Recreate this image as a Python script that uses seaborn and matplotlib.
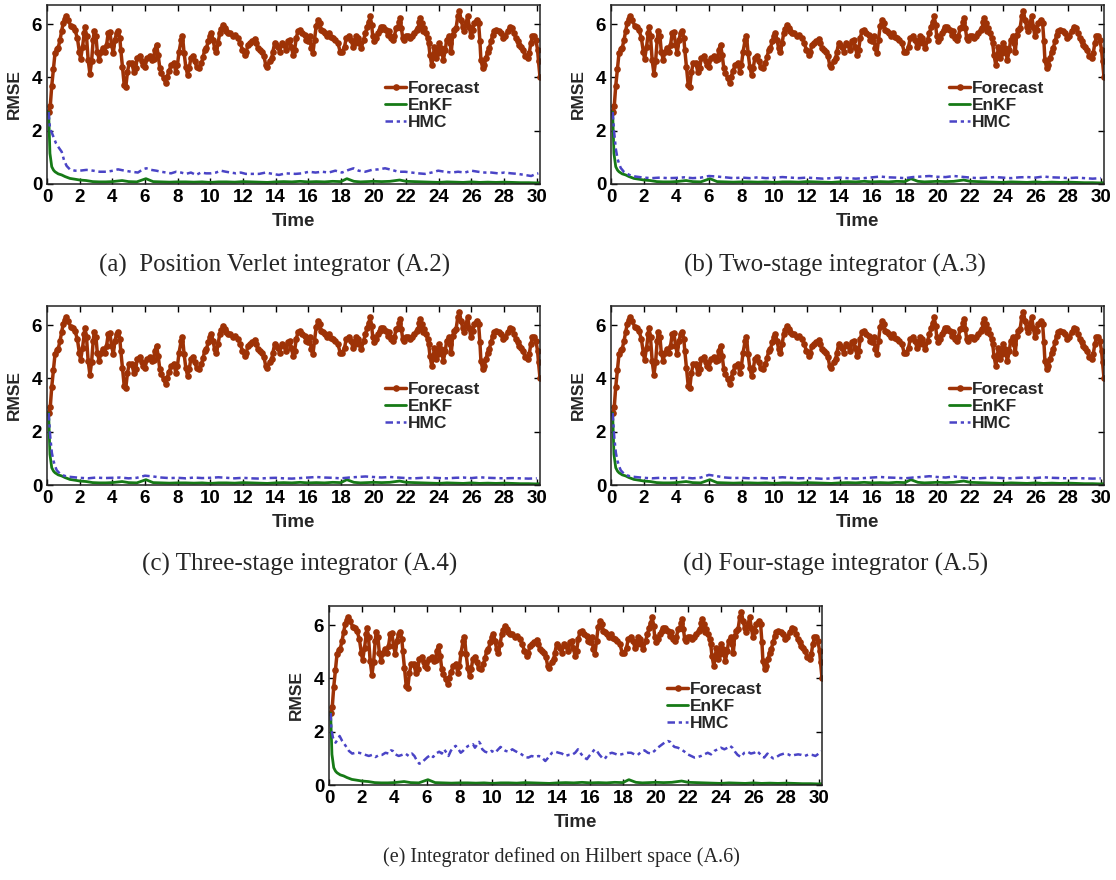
import numpy as np
import pandas as pd
import matplotlib
matplotlib.use("Agg")
import matplotlib.pyplot as plt
import seaborn as sns

# ---- data ----
forecast_t = [0.1, 0.2, 0.29, 0.39, 0.49, 0.6, 0.69, 0.8, 0.9, 1.0, 1.1, 1.17, 1.31, 1.45, 1.61, 1.71, 1.86, 1.98,
              2.06, 2.18, 2.28, 2.32, 2.42, 2.52, 2.63, 2.73, 2.83, 2.89, 3.0, 3.08, 3.2, 3.3, 3.44, 3.54, 3.65, 3.75,
              3.85, 3.96, 4.06, 4.16, 4.26, 4.36, 4.46, 4.52, 4.62, 4.73, 4.83, 4.93, 5.04, 5.18, 5.32, 5.44, 5.52,
              5.69, 5.8, 5.9, 6.0, 6.14, 6.3, 6.46, 6.54, 6.6, 6.71, 6.81, 6.91, 7.01, 7.16, 7.26, 7.36, 7.48, 7.62,
              7.77, 7.89, 7.99, 8.09, 8.22, 8.3, 8.4, 8.5, 8.61, 8.71, 8.81, 8.95, 9.05, 9.16, 9.32, 9.46, 9.56, 9.66,
              9.77, 9.87, 9.97, 10.07, 10.17, 10.27, 10.38, 10.48, 10.58, 10.68, 10.78, 10.89, 10.99, 11.09, 11.23,
              11.4, 11.54, 11.7, 11.84, 11.97, 12.11, 12.21, 12.31, 12.46, 12.58, 12.72, 12.82, 12.93, 13.07, 13.19,
              13.29, 13.4, 13.5, 13.64, 13.76, 13.84, 13.95, 14.05, 14.15, 14.25, 14.39, 14.52, 14.66, 14.76, 14.86,
              14.97, 15.07, 15.17, 15.27, 15.37, 15.52, 15.64, 15.78, 15.88, 15.99, 16.09, 16.19, 16.29, 16.39, 16.49,
              16.6, 16.7, 16.8, 16.9, 17.04, 17.14, 17.27, 17.41, 17.55, 17.67, 17.82, 17.96, 18.08, 18.23, 18.33,
              18.49, 18.63, 18.74, 18.84, 18.94, 19.04, 19.14, 19.25, 19.39, 19.51, 19.61, 19.72, 19.8, 19.88, 19.96,
              20.06, 20.16, 20.27, 20.37, 20.47, 20.57, 20.67, 20.77, 20.88, 20.98, 21.08, 21.18, 21.28, 21.38, 21.49,
              21.59, 21.65, 21.71, 21.79, 21.89, 22.0, 22.1, 22.24, 22.36, 22.5, 22.65, 22.75, 22.81, 22.87, 22.95,
              23.01, 23.12, 23.22, 23.32, 23.38, 23.46, 23.57, 23.67, 23.73, 23.83, 23.93, 24.04, 24.14, 24.28, 24.4,
              24.48, 24.61, 24.69, 24.77, 24.85, 24.96, 25.06, 25.16, 25.26, 25.36, 25.46, 25.56, 25.67, 25.77, 25.87,
              25.97, 26.07, 26.18, 26.32, 26.44, 26.52, 26.58, 26.69, 26.79, 26.89, 26.99, 27.09, 27.2, 27.3, 27.4,
              27.5, 27.67, 27.81, 27.95, 28.07, 28.22, 28.36, 28.48, 28.62, 28.72, 28.83, 28.93, 29.03, 29.17, 29.29,
              29.44, 29.54, 29.64, 29.74, 29.84, 29.95, 30.05, 30.11, 30.2]
forecast_rmse = [2.7, 2.93, 3.68, 4.31, 4.91, 5.05, 5.12, 5.41, 5.75, 6.06, 6.2, 6.29, 6.14, 5.94, 5.91, 5.79, 5.48,
                 4.97, 4.69, 5.16, 5.66, 5.91, 5.54, 4.66, 4.14, 4.6, 5.41, 5.73, 5.54, 4.97, 4.66, 4.97, 5.1, 4.97,
                 5.23, 5.66, 5.69, 5.23, 4.91, 5.41, 5.66, 5.73, 5.48, 5.04, 4.41, 3.72, 3.66, 4.22, 4.54, 4.56, 4.22,
                 4.35, 4.72, 4.81, 4.6, 4.47, 4.41, 4.72, 4.79, 4.66, 4.69, 5.04, 5.23, 4.85, 4.35, 4.16, 3.97, 3.81,
                 4.03, 4.26, 4.47, 4.56, 4.22, 4.47, 4.97, 5.41, 5.56, 4.91, 4.41, 4.1, 4.35, 4.72, 4.81, 4.6, 4.41,
                 4.35, 4.54, 4.76, 5.04, 5.1, 5.35, 5.54, 5.66, 5.41, 5.1, 4.97, 5.29, 5.66, 5.82, 5.98, 5.85, 5.73,
                 5.66, 5.66, 5.54, 5.6, 5.48, 5.29, 5.04, 4.85, 4.97, 5.23, 5.29, 5.35, 5.44, 5.29, 5.1, 5.04, 4.97,
                 4.79, 4.47, 4.41, 4.6, 4.72, 4.97, 5.31, 5.23, 5.16, 4.97, 5.29, 5.23, 5.04, 5.35, 5.41, 5.16, 4.85,
                 5.04, 5.48, 5.73, 5.79, 5.66, 5.6, 5.41, 5.35, 5.54, 5.1, 4.91, 5.41, 5.94, 6.14, 6.04, 5.79, 5.76,
                 5.66, 5.54, 5.66, 5.51, 5.48, 5.41, 5.29, 4.97, 4.95, 5.16, 5.48, 5.56, 5.41, 5.16, 5.29, 5.54, 5.48,
                 5.29, 5.1, 5.41, 5.66, 5.91, 6.1, 6.29, 5.98, 5.54, 5.35, 5.48, 5.66, 5.79, 5.91, 5.91, 5.82, 5.79,
                 5.6, 5.73, 5.48, 5.41, 5.54, 5.85, 5.91, 6.1, 6.23, 5.85, 5.48, 5.41, 5.54, 5.56, 5.48, 5.54, 5.66,
                 5.79, 5.85, 6.1, 6.23, 6.04, 5.73, 5.85, 5.66, 5.48, 5.29, 4.85, 4.47, 4.85, 5.16, 4.72, 4.91, 5.29,
                 5.1, 4.66, 5.04, 5.41, 5.54, 5.29, 4.97, 5.6, 5.79, 5.85, 6.29, 6.5, 6.17, 5.91, 5.73, 6.04, 6.29,
                 5.91, 5.54, 5.79, 6.04, 6.17, 6.04, 5.35, 4.66, 4.35, 4.47, 4.72, 4.97, 5.1, 5.35, 5.6, 5.73, 5.79,
                 5.76, 5.66, 5.48, 5.54, 5.73, 5.91, 5.85, 5.66, 5.48, 5.35, 5.23, 5.16, 5.04, 4.79, 4.72, 4.91, 5.29,
                 5.54, 5.54, 5.41, 5.04, 4.6, 4.01]

enkf_t = [0.1, 0.18, 0.29, 0.4, 0.49, 0.69, 0.9, 1.1, 1.4, 1.71, 2.0, 2.4, 2.8, 3.2, 3.6, 4.0, 4.6, 5.0, 5.5, 6.06,
          6.5, 7.0, 7.5, 8.0, 8.5, 9.0, 9.5, 10.0, 10.5, 11.0, 11.5, 12.0, 12.5, 13.0, 13.5, 14.0, 14.5, 15.0, 15.5,
          16.0, 16.5, 17.0, 17.5, 18.0, 18.37, 18.8, 19.2, 19.6, 20.0, 20.5, 21.0, 21.6, 22.0, 22.5, 23.0, 23.5, 24.0,
          24.5, 25.0, 25.5, 26.0, 26.5, 27.0, 27.5, 28.0, 28.5, 29.0, 29.5, 30.0, 30.15]
enkf_rmse = [2.7, 1.15, 0.65, 0.52, 0.46, 0.38, 0.34, 0.28, 0.21, 0.18, 0.15, 0.13, 0.09, 0.08, 0.08, 0.09, 0.13,
             0.09, 0.08, 0.2, 0.09, 0.08, 0.07, 0.08, 0.08, 0.07, 0.08, 0.06, 0.08, 0.08, 0.07, 0.09, 0.08, 0.07,
             0.06, 0.08, 0.09, 0.08, 0.1, 0.08, 0.09, 0.08, 0.1, 0.09, 0.2, 0.1, 0.08, 0.09, 0.1, 0.09, 0.1, 0.15,
             0.1, 0.09, 0.08, 0.07, 0.06, 0.08, 0.07, 0.06, 0.08, 0.06, 0.07, 0.06, 0.07, 0.06, 0.05, 0.05, 0.04,
             0.05]

hmc_a_t = [0.1, 0.18, 0.35, 0.55, 0.75, 0.9, 1.04, 1.2, 1.4, 1.71, 2.01, 2.42, 2.83, 3.23, 3.64, 4.05, 4.35, 4.76,
           5.16, 5.57, 5.87, 6.08, 6.38, 6.69, 6.99, 7.3, 7.6, 7.91, 8.21, 8.52, 8.82, 9.13, 9.43, 9.74, 10.04, 10.35,
           10.65, 10.96, 11.26, 11.57, 11.87, 12.18, 12.59, 13.0, 13.4, 13.81, 14.21, 14.62, 15.22, 15.63, 16.04,
           16.45, 16.85, 17.26, 17.66, 18.07, 18.48, 18.78, 19.09, 19.49, 19.9, 20.31, 20.71, 21.12, 21.52, 21.93,
           22.34, 22.74, 23.15, 23.56, 23.96, 24.37, 24.78, 25.18, 25.59, 26.0, 26.4, 26.81, 27.22, 27.62, 28.03,
           28.44, 28.84, 29.25, 29.66, 29.96, 30.1]
hmc_a = [2.7, 2.1, 1.84, 1.53, 1.34, 1.21, 0.9, 0.68, 0.55, 0.5, 0.5, 0.53, 0.5, 0.46, 0.46, 0.5, 0.55, 0.5, 0.46,
         0.43, 0.55, 0.59, 0.53, 0.5, 0.46, 0.43, 0.4, 0.46, 0.43, 0.38, 0.43, 0.34, 0.43, 0.4, 0.4, 0.43, 0.5, 0.46,
         0.43, 0.4, 0.43, 0.38, 0.38, 0.38, 0.43, 0.38, 0.34, 0.4, 0.38, 0.4, 0.46, 0.43, 0.46, 0.43, 0.5, 0.43,
         0.53, 0.59, 0.5, 0.46, 0.53, 0.55, 0.59, 0.53, 0.46, 0.46, 0.43, 0.4, 0.38, 0.43, 0.5, 0.46, 0.43, 0.46,
         0.43, 0.5, 0.46, 0.43, 0.43, 0.4, 0.43, 0.4, 0.38, 0.34, 0.3, 0.38, 0.4]

hmc_bcd_t = [0.1, 0.2, 0.3, 0.4, 0.5, 0.6, 0.8, 1.0, 1.2, 1.5, 2.0, 2.5, 3.0, 3.5, 4.0, 4.5, 5.0, 5.5, 6.0, 6.5,
             7.0, 7.5, 8.0, 8.5, 9.0, 9.5, 10.0, 10.5, 11.0, 11.5, 12.0, 12.5, 13.0, 13.5, 14.0, 14.5, 15.0, 15.5,
             16.0, 16.5, 17.0, 17.5, 18.0, 18.5, 19.0, 19.5, 20.0, 20.5, 21.0, 21.5, 22.0, 22.5, 23.0, 23.5, 24.0,
             24.5, 25.0, 25.5, 26.0, 26.5, 27.0, 27.5, 28.0, 28.5, 29.0, 29.5, 30.0]
hmc_b = [2.7, 1.9, 1.3, 0.95, 0.75, 0.6, 0.45, 0.38, 0.32, 0.28, 0.24, 0.22, 0.24, 0.22, 0.23, 0.25, 0.22, 0.24,
         0.3, 0.28, 0.25, 0.22, 0.24, 0.22, 0.25, 0.22, 0.24, 0.26, 0.24, 0.22, 0.24, 0.22, 0.2, 0.22, 0.24, 0.22,
         0.2, 0.22, 0.25, 0.28, 0.25, 0.24, 0.22, 0.26, 0.28, 0.3, 0.27, 0.26, 0.3, 0.27, 0.24, 0.22, 0.24, 0.26,
         0.24, 0.22, 0.25, 0.26, 0.24, 0.28, 0.25, 0.24, 0.22, 0.24, 0.22, 0.2, 0.22]
hmc_c = [2.7, 1.8, 1.2, 0.9, 0.7, 0.55, 0.42, 0.36, 0.32, 0.3, 0.27, 0.25, 0.28, 0.26, 0.27, 0.28, 0.25, 0.27,
         0.35, 0.32, 0.28, 0.26, 0.27, 0.25, 0.28, 0.26, 0.27, 0.29, 0.27, 0.25, 0.27, 0.25, 0.24, 0.26, 0.27,
         0.25, 0.24, 0.26, 0.28, 0.3, 0.28, 0.27, 0.25, 0.28, 0.3, 0.32, 0.3, 0.28, 0.3, 0.28, 0.26, 0.25, 0.27,
         0.28, 0.26, 0.25, 0.27, 0.28, 0.26, 0.29, 0.27, 0.26, 0.25, 0.26, 0.25, 0.24, 0.25]
hmc_d = [2.7, 1.8, 1.2, 0.9, 0.7, 0.55, 0.42, 0.36, 0.32, 0.3, 0.27, 0.25, 0.27, 0.25, 0.26, 0.28, 0.25, 0.28,
         0.38, 0.33, 0.28, 0.26, 0.27, 0.25, 0.27, 0.25, 0.27, 0.29, 0.27, 0.25, 0.26, 0.25, 0.23, 0.25, 0.27,
         0.25, 0.24, 0.26, 0.28, 0.3, 0.28, 0.27, 0.25, 0.28, 0.3, 0.33, 0.3, 0.28, 0.32, 0.28, 0.26, 0.25, 0.27,
         0.28, 0.26, 0.25, 0.27, 0.28, 0.26, 0.29, 0.27, 0.26, 0.25, 0.26, 0.25, 0.24, 0.25]

hmc_e_t = [0.1, 0.14, 0.24, 0.4, 0.55, 0.65, 0.81, 1.02, 1.22, 1.42, 1.63, 1.83, 2.03, 2.24, 2.44, 2.64, 2.85, 3.05,
           3.25, 3.46, 3.66, 3.8, 3.91, 4.07, 4.27, 4.47, 4.68, 4.88, 5.08, 5.23, 5.37, 5.53, 5.69, 5.83, 6.04, 6.24,
           6.38, 6.55, 6.75, 6.91, 7.05, 7.2, 7.32, 7.46, 7.6, 7.76, 7.93, 8.07, 8.21, 8.37, 8.54, 8.68, 8.82, 8.94,
           9.09, 9.19, 9.29, 9.39, 9.56, 9.76, 9.96, 10.17, 10.37, 10.51, 10.66, 10.82, 11.02, 11.23, 11.39, 11.6,
           11.8, 12.0, 12.21, 12.41, 12.62, 12.85, 13.05, 13.25, 13.46, 13.66, 13.86, 14.07, 14.27, 14.47, 14.68,
           14.88, 15.08, 15.25, 15.39, 15.59, 15.8, 15.94, 16.11, 16.27, 16.41, 16.55, 16.72, 16.88, 17.02, 17.17,
           17.33, 17.49, 17.7, 17.9, 18.1, 18.31, 18.51, 18.71, 18.92, 19.12, 19.33, 19.53, 19.73, 19.94, 20.14,
           20.35, 20.55, 20.75, 20.9, 21.0, 21.16, 21.37, 21.57, 21.78, 21.98, 22.18, 22.39, 22.59, 22.79, 23.0,
           23.2, 23.4, 23.61, 23.81, 24.01, 24.22, 24.42, 24.56, 24.71, 24.87, 25.03, 25.23, 25.44, 25.64, 25.84,
           26.05, 26.19, 26.33, 26.5, 26.66, 26.86, 27.0, 27.21, 27.41, 27.62, 27.88, 28.13, 28.33, 28.54, 28.74,
           28.94, 29.15, 29.39, 29.6, 29.8, 30.0, 30.13]
hmc_e = [2.7, 2.15, 1.78, 1.59, 1.72, 1.84, 1.65, 1.47, 1.28, 1.18, 1.21, 1.21, 1.18, 1.13, 1.09, 1.13, 1.05, 1.12,
         1.13, 1.21, 1.18, 1.3, 1.28, 1.15, 1.09, 1.13, 1.18, 1.09, 1.18, 1.09, 0.93, 0.8, 0.84, 0.93, 1.05, 1.13,
         1.05, 1.18, 1.25, 1.18, 1.34, 1.21, 1.09, 1.28, 1.4, 1.47, 1.34, 1.21, 1.28, 1.4, 1.47, 1.5, 1.53, 1.4,
         1.53, 1.62, 1.53, 1.34, 1.25, 1.21, 1.28, 1.21, 1.34, 1.43, 1.34, 1.28, 1.25, 1.34, 1.28, 1.21, 1.15, 1.05,
         1.03, 1.09, 1.05, 1.09, 1.03, 0.9, 1.05, 1.21, 1.25, 1.21, 1.18, 1.09, 1.13, 1.13, 1.21, 1.34, 1.21, 1.05,
         0.97, 1.09, 1.21, 1.34, 1.28, 1.15, 1.03, 0.97, 1.09, 1.18, 1.21, 1.18, 1.13, 1.15, 1.18, 1.21, 1.21, 1.15,
         1.13, 1.25, 1.3, 1.21, 1.18, 1.28, 1.4, 1.5, 1.59, 1.65, 1.62, 1.53, 1.43, 1.4, 1.34, 1.25, 1.15, 1.09,
         1.03, 1.05, 1.09, 1.15, 1.21, 1.15, 1.28, 1.34, 1.4, 1.34, 1.4, 1.47, 1.4, 1.25, 1.13, 1.05, 1.21, 1.25,
         1.18, 1.21, 1.28, 1.21, 1.09, 1.03, 1.18, 1.09, 1.0, 1.05, 1.13, 1.18, 1.15, 1.09, 1.13, 1.15, 1.13, 1.09,
         1.15, 1.13, 1.09, 1.18, 1.28]

captions = ["(a)  Position Verlet integrator (A.2)", "(b) Two-stage integrator (A.3)",
            "(c) Three-stage integrator (A.4)", "(d) Four-stage integrator (A.5)",
            "(e) Integrator defined on Hilbert space (A.6)"]
x_ticks = [0, 2, 4, 6, 8, 10, 12, 14, 16, 18, 20, 22, 24, 26, 28, 30]
y_ticks = [0, 2, 4, 6]

FORECAST_COLOR = "#9e3206"
ENKF_COLOR = "#167a16"
HMC_COLOR = "#4a44c6"

sns.set_theme(style="ticks")
plt.rcParams["font.family"] = ["Liberation Sans", "DejaVu Sans"]
plt.rcParams["font.weight"] = "bold"
plt.rcParams["axes.labelweight"] = "bold"

W, H = 1116, 880
fig = plt.figure(figsize=(W / 100, H / 100), dpi=100)

# axes boxes in pixels: left, top
boxes = [(47, 5), (611, 5), (47, 306), (611, 306), (329, 606)]
AX_W, AX_H = 493, 179
caption_pos = [(275, 265), (835, 265), (300, 564), (836, 564), (561, 857)]
caption_size = [18, 18, 18, 18, 14.5]

hmc_series = [(hmc_a_t, hmc_a), (hmc_bcd_t, hmc_b), (hmc_bcd_t, hmc_c), (hmc_bcd_t, hmc_d), (hmc_e_t, hmc_e)]

fc = pd.DataFrame({"t": forecast_t, "rmse": forecast_rmse})
en = pd.DataFrame({"t": enkf_t, "rmse": enkf_rmse})

for idx, (left, top) in enumerate(boxes):
    ax = fig.add_axes([left / W, 1 - (top + AX_H) / H, AX_W / W, AX_H / H])
    sns.lineplot(data=fc, x="t", y="rmse", ax=ax, color=FORECAST_COLOR, linewidth=2.5,
                 marker="o", markersize=4.8, markeredgewidth=0, label="Forecast", sort=False)
    sns.lineplot(data=en, x="t", y="rmse", ax=ax, color=ENKF_COLOR, linewidth=2.0,
                 label="EnKF", sort=False)
    ht, hv = hmc_series[idx]
    hm = pd.DataFrame({"t": ht, "rmse": hv})
    sns.lineplot(data=hm, x="t", y="rmse", ax=ax, color=HMC_COLOR, linewidth=1.8,
                 label="HMC", sort=False)
    ax.lines[-1].set_linestyle((0, (3.0, 1.5, 1.3, 1.5)))

    ax.set_xlim(0, 30.2)
    ax.set_ylim(0, 6.72)
    ax.set_xticks(x_ticks)
    ax.set_yticks(y_ticks)
    ax.tick_params(direction="in", length=4, width=1, top=True, right=True,
                   labelsize=13.5, pad=3.5, colors="black")
    for lab in ax.get_xticklabels() + ax.get_yticklabels():
        lab.set_fontweight("bold")
    for sp in ax.spines.values():
        sp.set_visible(True)
        sp.set_linewidth(1.1)
        sp.set_color("#222222")
    ax.set_xlabel("Time", fontsize=13.5, fontweight="bold")
    ax.set_ylabel("RMSE", fontsize=12.5, fontweight="bold")
    ax.xaxis.set_label_coords(0.5, -0.16)
    ax.yaxis.set_label_coords(-0.05, 0.5)

    ax.legend(loc="upper left", bbox_to_anchor=(0.686, 0.578), frameon=False,
              prop={"weight": "bold", "size": 12.5}, handlelength=1.2,
              handletextpad=0.1, labelspacing=0.12, borderpad=0, borderaxespad=0)

    cx, cy = caption_pos[idx]
    fig.text(cx / W, 1 - cy / H, captions[idx], ha="center", va="center",
             fontsize=caption_size[idx], family=["Liberation Serif", "DejaVu Serif"], fontweight="normal")

fig.savefig("out.png", dpi=100)
plt.close(fig)
